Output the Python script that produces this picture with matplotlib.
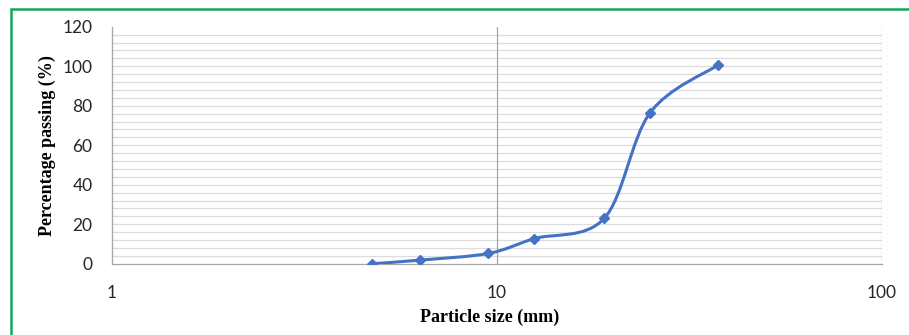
import numpy as np
import matplotlib
matplotlib.use("Agg")
from matplotlib import pyplot as plt
from matplotlib.path import Path
from matplotlib.patches import PathPatch, Rectangle

# sieve sizes (mm) and percentage passing
sieveSize = [4.75, 6.3, 9.5, 12.5, 19, 25, 37.5]
percentPassing = [0, 1.8, 5.2, 12.7, 22.9, 76.4, 100.5]

X_TICKS = [1, 10, 100]
Y_TICKS = [0, 20, 40, 60, 80, 100, 120]

LINE_COLOR = '#4472C4'
GRID_COLOR = '#dcdcdc'
AXIS_COLOR = '#a6a6a6'


def smoothPath(xs, ys):
    # Excel style smoothed line: cubic bezier through the points,
    # control points built in (log x, y) space like catmull-rom
    u = np.log10(np.array(xs, dtype=float))
    v = np.array(ys, dtype=float)
    pts = np.column_stack([u, v])
    n = len(pts)
    verts = [pts[0]]
    codes = [Path.MOVETO]
    for i in range(n - 1):
        p0 = pts[max(i - 1, 0)]
        p1 = pts[i]
        p2 = pts[i + 1]
        p3 = pts[min(i + 2, n - 1)]
        c1 = p1 + (p2 - p0) / 6.0
        c2 = p2 - (p3 - p1) / 6.0
        verts += [c1, c2, p2]
        codes += [Path.CURVE4] * 3
    verts = np.array(verts)
    verts[:, 0] = 10 ** verts[:, 0]
    return Path(verts, codes)


fig = plt.figure(figsize=(9.09, 3.35), dpi=100)
ax = fig.add_axes([0.1232, 0.2128, 0.8468, 0.7075])

ax.set_xscale('log')
ax.set_xlim(1, 100)
ax.set_ylim(0, 120)

# horizontal minor gridlines every 4 units (none at the top)
for yy in np.arange(4, 120, 4):
    ax.axhline(yy, color=GRID_COLOR, lw=0.9, zorder=0)
# vertical major gridlines
for xx in X_TICKS[1:]:
    ax.axvline(xx, color=AXIS_COLOR, lw=0.9, zorder=0.5)

patch = PathPatch(smoothPath(sieveSize, percentPassing), facecolor='none',
                  edgecolor=LINE_COLOR, lw=2.2, zorder=3, capstyle='round')
ax.add_patch(patch)
ax.plot(sieveSize, percentPassing, linestyle='none', marker='D',
        markersize=5.5, color=LINE_COLOR, zorder=4)

for side in ['top', 'right']:
    ax.spines[side].set_visible(False)
for side in ['left', 'bottom']:
    ax.spines[side].set_color(AXIS_COLOR)
    ax.spines[side].set_linewidth(0.9)

ax.set_xticks(X_TICKS)
ax.set_xticklabels([str(t) for t in X_TICKS])
ax.xaxis.set_minor_locator(matplotlib.ticker.NullLocator())
ax.set_yticks(Y_TICKS)
ax.set_yticklabels([str(t) for t in Y_TICKS])
ax.tick_params(axis='both', length=0, labelsize=12.5, colors='#262626')
ax.tick_params(axis='x', pad=15)
ax.tick_params(axis='y', pad=14)
for lbl in ax.get_xticklabels() + ax.get_yticklabels():
    lbl.set_fontfamily('Lato')

ax.set_xlabel('Particle size (mm)', fontfamily='Liberation Serif',
              fontweight='bold', fontsize=13)
ax.set_ylabel('Percentage passing (%)', fontfamily='Liberation Serif',
              fontweight='bold', fontsize=13)
ax.xaxis.set_label_coords(0.49, -0.19)
ax.yaxis.set_label_coords(-0.073, 0.5)

# green frame around the chart (only left and top edges show)
fig.patches.append(Rectangle((11 / 909, -0.1), 1.2, 1.1 - 8.5 / 335,
                             transform=fig.transFigure, fill=False,
                             edgecolor='#12A85A', lw=1.8))

fig.savefig('out.png', dpi=100)
